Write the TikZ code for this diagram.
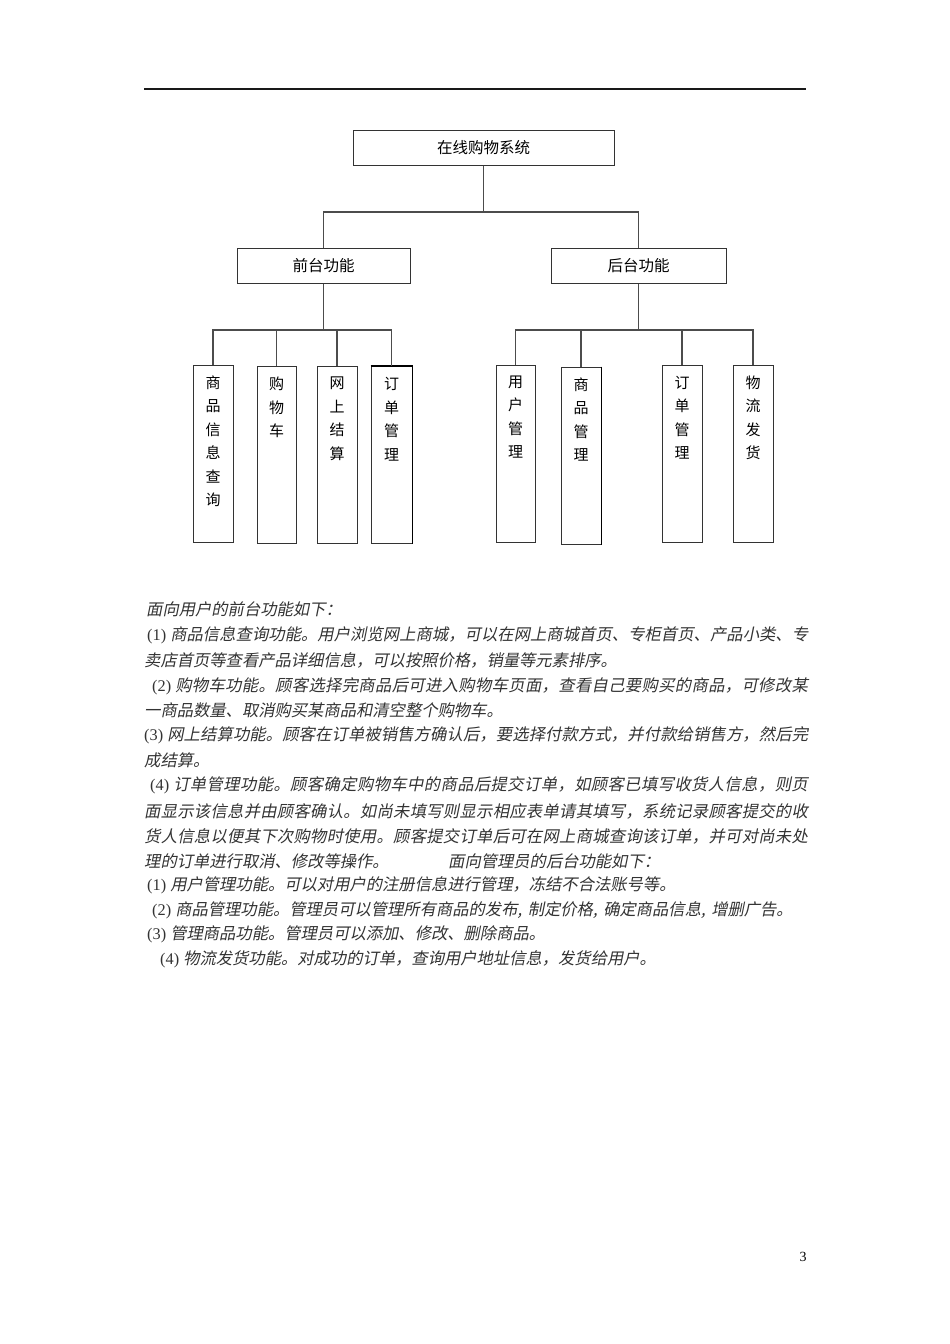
\documentclass[tikz,border=0pt]{standalone}
\usepackage{fontspec}
\setmainfont{Liberation Serif}
\newfontfamily\cjk{Noto Sans CJK SC}
\newfontfamily\cjki[FakeSlant=0.2]{Noto Sans CJK SC}
\newcommand\cn[1]{{\cjki #1}}
\def\spread#1{\spreadi#1\relax}
\def\spreadi#1{\ifx\relax#1\else #1\hskip 0pt plus 1pt\expandafter\spreadi\fi}
\newcommand\fit[2]{\makebox[#1][s]{#2}}
\newcommand\numsp{\hspace{0.25em}}
\begin{document}
\begin{tikzpicture}[x=1pt,y=-1pt,
  box/.style={draw=black!80, line width=1pt, inner sep=0, font=\cjk\fontsize{15.5}{17}\selectfont},
  leaf/.style={draw=black!80, line width=1pt, inner sep=0, minimum width=40pt, minimum height=177pt},
  leaftxt/.style={font=\cjk\fontsize{15}{23.5}\selectfont, align=center, inner sep=0},
  conn/.style={draw=black!70, line width=1.2pt},
  tl/.style={anchor=west, inner sep=0, font=\fontsize{16.3}{25}\selectfont, text=black!80},
  thick edge/.style={draw=black, line width=1.8pt}
]
\useasboundingbox (0,0) rectangle (950,1344);
\fill[white] (0,0) rectangle (950,1344);
% page rule
\draw[line width=1.3pt, black!90] (144,89) -- (806,89);

% tree boxes
\node[box, minimum width=261pt, minimum height=35pt] (root) at (483.5,147.5) {在线购物系统};
\node[box, minimum width=173pt, minimum height=35pt] (front) at (323.5,265.5) {前台功能};
\node[box, minimum width=175pt, minimum height=35pt] (back) at (638.5,265.5) {后台功能};

\newcommand\leafnode[4]{%
  \node[leaf, minimum width=#3] (#1) at #2 {};
  \node[leaftxt, anchor=north] (#1t) at ([yshift=-11pt]#1.north) {#4};}
\leafnode{L1}{(213,453.5)}{40pt}{商\\品\\信\\息\\查\\询}
\leafnode{L2}{(276.5,455)}{39pt}{购\\物\\车}
\leafnode{L3}{(337,455)}{40pt}{网\\上\\结\\算}
\leafnode{L4}{(391.5,455)}{41pt}{订\\单\\管\\理}
\leafnode{R1}{(515.5,453.5)}{39pt}{用\\户\\管\\理}
\leafnode{R2}{(581,455.5)}{40pt}{商\\品\\管\\理}
\leafnode{R3}{(682,453.5)}{40pt}{订\\单\\管\\理}
\leafnode{R4}{(753,453.5)}{40pt}{物\\流\\发\\货}
\draw[thick edge] (L4.north west) -- (L4.north east) -- (L4.south east);
\draw[thick edge] (R2.north east) -- (R2.south east);

% connectors
\coordinate (j0) at (0,212);
\coordinate (j1) at (0,330);
\draw[conn] (root.south) -- (root.south |- j0);
\draw[conn] (front.north) -- (front.north |- j0) -- (back.north |- j0) -- (back.north);
\draw[conn] (front.south) -- (front.south |- j1);
\draw[conn] (L1.north) -- (L1.north |- j1) -- (L4.north |- j1) -- (L4.north);
\draw[conn] (L2.north) -- (L2.north |- j1);
\draw[conn] (L3.north) -- (L3.north |- j1);
\draw[conn] (back.south) -- (back.south |- j1);
\draw[conn] (R1.north) -- (R1.north |- j1) -- (R4.north |- j1) -- (R4.north);
\draw[conn] (R2.north) -- (R2.north |- j1);
\draw[conn] (R3.north) -- (R3.north |- j1);

% body text
\node[tl] (t1) at (146,609) {\cn{面向用户的前台功能如下：}};
\node[tl] (t2) at (147,635) {\fit{661pt}{(1)\numsp\cn{\spread{商品信息查询功能。用户浏览网上商城，可以在网上商城首页、专柜首页、产品小类、专}}}};
\node[tl] (t3) at (144,660) {\cn{卖店首页等查看产品详细信息，可以按照价格，销量等元素排序。}};
\node[tl] (t4) at (152,686) {\fit{656pt}{(2)\numsp\cn{\spread{购物车功能。顾客选择完商品后可进入购物车页面，查看自己要购买的商品，可修改某}}}};
\node[tl] (t5) at (144,710) {\cn{一商品数量、取消购买某商品和清空整个购物车。}};
\node[tl] (t6) at (144,735) {\fit{664pt}{(3)\numsp\cn{\spread{网上结算功能。顾客在订单被销售方确认后，要选择付款方式，并付款给销售方，然后完}}}};
\node[tl] (t7) at (144,760) {\cn{成结算。}};
\node[tl] (t8) at (150,785) {\fit{658pt}{(4)\numsp\cn{\spread{订单管理功能。顾客确定购物车中的商品后提交订单，如顾客已填写收货人信息，则页}}}};
\node[tl] (t9) at (144,811) {\fit{664pt}{\cn{\spread{面显示该信息并由顾客确认。如尚未填写则显示相应表单请其填写，系统记录顾客提交的收}}}};
\node[tl] (t10) at (144,836) {\fit{664pt}{\cn{\spread{货人信息以便其下次购物时使用。顾客提交订单后可在网上商城查询该订单，并可对尚未处}}}};
\node[tl] (t11) at (144,861) {\cn{理的订单进行取消、修改等操作。}};
\node[tl] (t11b) at (448,861) {\cn{面向管理员的后台功能如下：}};
\node[tl] (t12) at (147,885) {(1)\numsp\cn{用户管理功能。可以对用户的注册信息进行管理，冻结不合法账号等。}};
\node[tl] (t13) at (152,910) {(2)\numsp\cn{商品管理功能。管理员可以管理所有商品的发布,\hspace{0.35em}制定价格,\hspace{0.35em}确定商品信息,\hspace{0.35em}增删广告。}};
\node[tl] (t14) at (147,934) {(3)\numsp\cn{管理商品功能。管理员可以添加、修改、删除商品。}};
\node[tl] (t15) at (160,959) {(4)\numsp\cn{物流发货功能。对成功的订单，查询用户地址信息，发货给用户。}};

% page number
\node[inner sep=0, font=\fontsize{14}{16}\selectfont] (pg) at (803,1257) {3};
\end{tikzpicture}
\end{document}
